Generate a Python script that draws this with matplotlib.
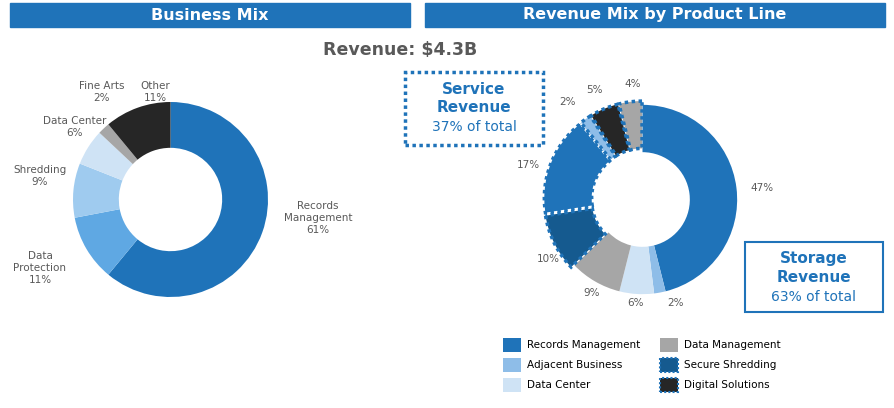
import matplotlib.pyplot as plt
from matplotlib.patches import Rectangle

BLUE = '#1f73b9'
GRAY_TXT = '#595959'

mix_labels = ['Records\nManagement', 'Data\nProtection', 'Shredding', 'Data Center', 'Fine Arts', 'Other']
mix_values = [61, 11, 9, 6, 2, 11]
mix_colors = [BLUE, '#5fa8e3', '#9fcbef', '#cfe3f5', '#a6a6a6', '#262626']

prod_values = [47, 2, 6, 9, 10, 17, 2, 5, 4]
prod_colors = [BLUE, '#8ebde8', '#cfe3f5', '#a6a6a6', '#155a8f', BLUE, '#8ebde8', '#262626', '#a6a6a6']
prod_service = [False, False, False, False, True, True, True, True, True]

legend_labels = ['Records Management', 'Adjacent Business', 'Data Center',
                 'Data Management', 'Secure Shredding', 'Digital Solutions']
legend_colors = [BLUE, '#8ebde8', '#cfe3f5', '#a6a6a6', '#155a8f', '#262626']

W, H = 895, 408
fig = plt.figure(figsize=(W / 100, H / 100), dpi=100)

def fx(x): return x / W
def fy(y): return 1 - y / H

# header bars
for x0, x1, title in [(10, 410, 'Business Mix'), (425, 885, 'Revenue Mix by Product Line')]:
    fig.patches.append(Rectangle((fx(x0), fy(27)), fx(x1 - x0), 24 / H, color=BLUE, transform=fig.transFigure))
    fig.text(fx((x0 + x1) / 2), fy(15), title, color='white', fontsize=11.5, fontweight='bold', ha='center', va='center')

fig.text(fx(400), fy(50), 'Revenue: $4.3B', color=GRAY_TXT, fontsize=12.5, fontweight='bold', ha='center', va='center')

# left donut
ax1 = fig.add_axes([fx(73), fy(297), fx(195), 195 / H])
ax1.pie(mix_values, colors=mix_colors, startangle=90, counterclock=False,
        wedgeprops=dict(width=0.47, linewidth=0))
ax1.set_aspect('equal')
ax1.set_xlim(-1, 1); ax1.set_ylim(-1, 1); ax1.axis('off')
left_pos = [(318, 218), (40, 268), (40, 176), (75, 127), (102, 92), (155, 92)]
for (x, y), lab, v in zip(left_pos, mix_labels, mix_values):
    fig.text(fx(x), fy(y), f'{lab}\n{v}%', color=GRAY_TXT, fontsize=7.5, ha='center', va='center', linespacing=1.2)

# right donut
ax2 = fig.add_axes([fx(545), fy(297), fx(195), 195 / H])
explode = [0.04 if s else 0 for s in prod_service]
wedges, _ = ax2.pie(prod_values, colors=prod_colors, startangle=90, counterclock=False,
                    explode=explode, wedgeprops=dict(width=0.5, linewidth=0))
for w, s in zip(wedges, prod_service):
    if s:
        w.set_edgecolor(BLUE)
        w.set_linestyle((0, (1, 1)))
        w.set_linewidth(2.5)
ax2.set_aspect('equal')
ax2.set_xlim(-1.03, 1.03); ax2.set_ylim(-1.03, 1.03); ax2.axis('off')
right_pos = [(762, 188), (676, 303), (636, 303), (592, 293), (548, 259),
             (528, 165), (567, 102), (594, 90), (633, 84)]
for (x, y), v in zip(right_pos, prod_values):
    fig.text(fx(x), fy(y), f'{v}%', color=GRAY_TXT, fontsize=7.5, ha='center', va='center')

# callout boxes
fig.patches.append(Rectangle((fx(405), fy(145)), fx(138), 73 / H, fill=False, edgecolor=BLUE,
                             linestyle=(0, (1, 1)), linewidth=2.5, transform=fig.transFigure))
fig.text(fx(474), fy(89), 'Service', color=BLUE, fontsize=11, fontweight='bold', ha='center', va='center')
fig.text(fx(474), fy(108), 'Revenue', color=BLUE, fontsize=11, fontweight='bold', ha='center', va='center')
fig.text(fx(474), fy(127), '37% of total', color=BLUE, fontsize=10, ha='center', va='center')

fig.patches.append(Rectangle((fx(745), fy(312)), fx(138), 70 / H, fill=False, edgecolor=BLUE,
                             linewidth=1.5, transform=fig.transFigure))
fig.text(fx(814), fy(259), 'Storage', color=BLUE, fontsize=11, fontweight='bold', ha='center', va='center')
fig.text(fx(814), fy(278), 'Revenue', color=BLUE, fontsize=11, fontweight='bold', ha='center', va='center')
fig.text(fx(814), fy(297), '63% of total', color=BLUE, fontsize=10, ha='center', va='center')

# legend
for i, (lab, col) in enumerate(zip(legend_labels, legend_colors)):
    x0 = 503 if i < 3 else 660
    y0 = 345 + (i % 3) * 20
    dotted = i >= 4
    fig.patches.append(Rectangle((fx(x0), fy(y0 + 7)), fx(18), 14 / H, facecolor=col,
                                 edgecolor=BLUE if dotted else 'none', linestyle=(0, (1, 1)),
                                 linewidth=1.5, transform=fig.transFigure))
    fig.text(fx(x0 + 24), fy(y0), lab, color='black', fontsize=7.5, ha='left', va='center')

fig.savefig('out.png', dpi=100)
